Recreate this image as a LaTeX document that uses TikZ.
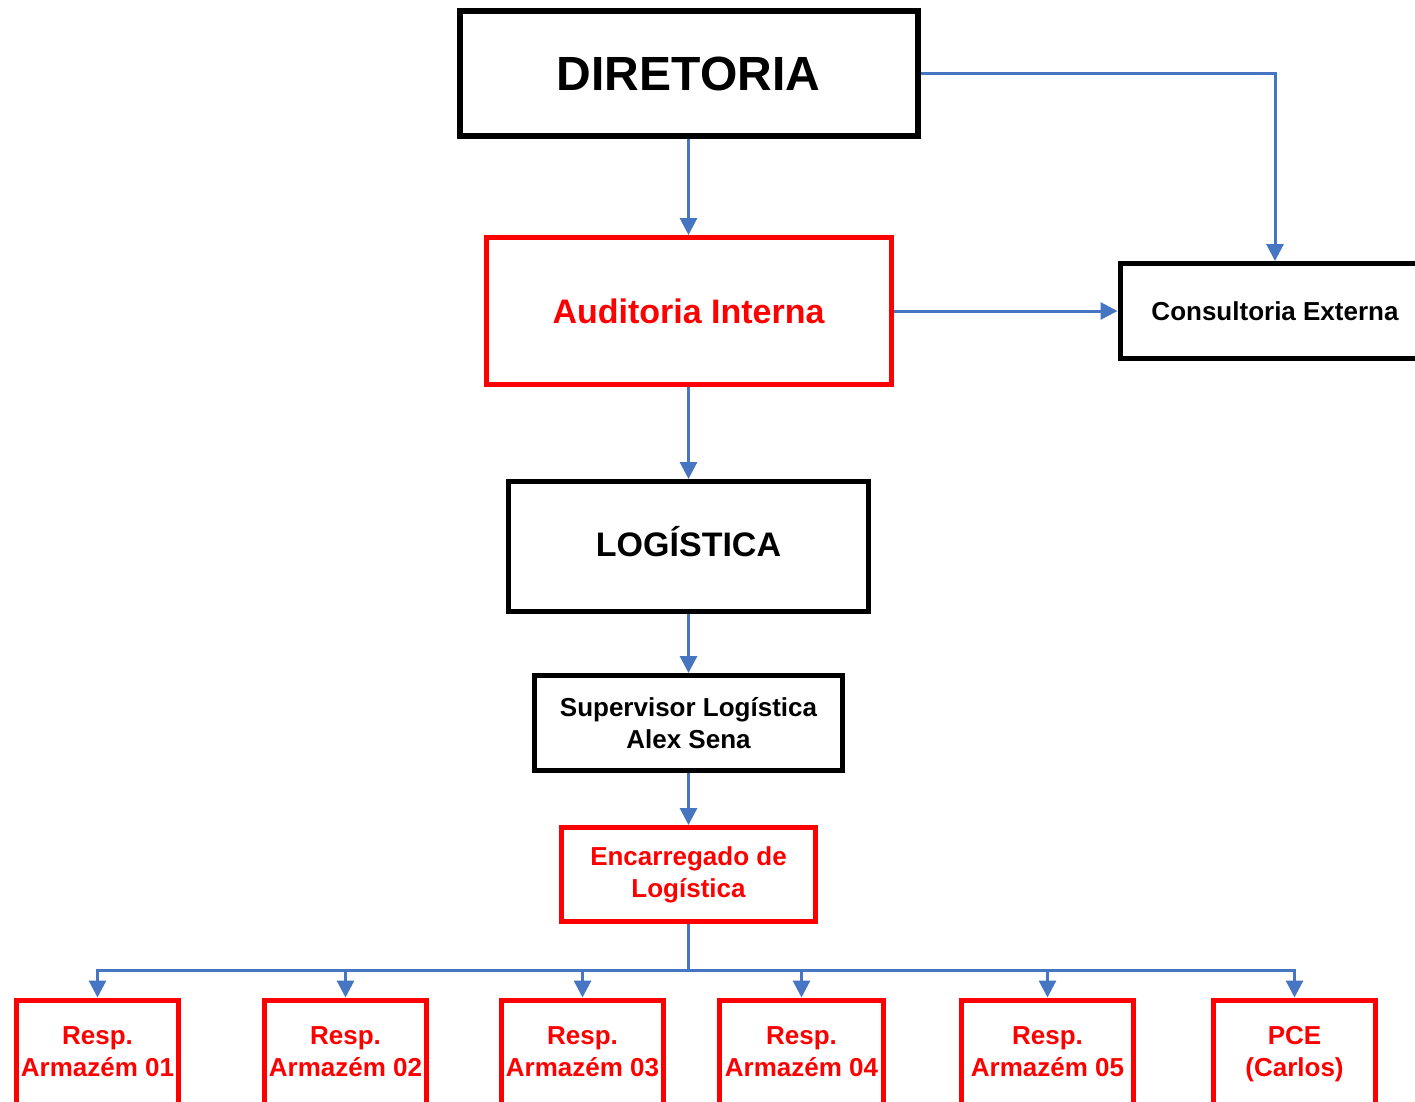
\documentclass[tikz,border=0pt]{standalone}
\usepackage{fontspec}
\setmainfont{Liberation Sans}
\usetikzlibrary{arrows.meta}
\definecolor{conn}{RGB}{70,117,194}
\definecolor{boxred}{RGB}{255,0,0}
\tikzset{
  box/.style={draw, inner sep=0pt, align=center, font=\bfseries},
  blackbox/.style={box, draw=black, text=black},
  redbox/.style={box, draw=boxred, text=boxred},
  conn/.style={draw=conn, line width=3pt, -{Triangle[width=17pt,length=17pt]}},
  plain/.style={draw=conn, line width=3pt},
  small/.style={font=\bfseries\fontsize{26}{32}\selectfont},
  bottombox/.style={redbox, line width=5pt, minimum height=109pt, small},
}
\begin{document}
\begin{tikzpicture}[x=1pt,y=-1pt]
\useasboundingbox (0,0) rectangle (1415,1102);
\clip (0,0) rectangle (1415,1102);
\fill[white] (0,0) rectangle (1415,1102);
% boxes
\node[blackbox, line width=6pt, minimum width=458pt, minimum height=125pt,
      font=\bfseries\fontsize{48}{58}\selectfont] (dir) at (688.5,73.5) {DIRETORIA};
\node[redbox, line width=5pt, minimum width=405pt, minimum height=147pt,
      font=\bfseries\fontsize{34}{40}\selectfont] (aud) at (688.5,311) {Auditoria Interna};
\node[blackbox, line width=5pt, minimum width=310pt, minimum height=95pt, small] (con) at (1275,311) {Consultoria Externa};
\node[blackbox, line width=5pt, minimum width=360pt, minimum height=130pt, text height=24pt, text depth=5pt,
      font=\bfseries\fontsize{34}{40}\selectfont] (log) at (688.5,546.5) {LOGÍSTICA};
\node[blackbox, line width=5pt, minimum width=308pt, minimum height=95pt, small] (sup) at (688.5,723) {Supervisor Logística\\Alex Sena};
\node[redbox, line width=5pt, minimum width=254pt, minimum height=94pt, small] (enc) at (688.5,874.5) {Encarregado de\\Logística};
% bottom row
\node[bottombox, minimum width=162pt] (b1) at (97.5,1054.5) {\strut Resp.\\\strut Armazém 01};
\node[bottombox, minimum width=162pt] (b2) at (345.5,1054.5) {\strut Resp.\\\strut Armazém 02};
\node[bottombox, minimum width=162pt] (b3) at (582.5,1054.5) {\strut Resp.\\\strut Armazém 03};
\node[bottombox, minimum width=164pt] (b4) at (801.5,1054.5) {\strut Resp.\\\strut Armazém 04};
\node[bottombox, minimum width=172pt] (b5) at (1047.5,1054.5) {\strut Resp.\\\strut Armazém 05};
\node[bottombox, minimum width=162pt] (b6) at (1294.5,1054.5) {\strut PCE\\\strut (Carlos)};
% connectors
\draw[conn] (dir) -- (aud);
\draw[conn] (dir.east) -| (con.north);
\draw[conn] (aud.east) -- (con.west);
\draw[conn] (aud) -- (log);
\draw[conn] (log) -- (sup);
\draw[conn] (sup) -- (enc);
\coordinate (bus) at (688.5,970);
\draw[plain] (enc.south) -- (bus);
\foreach \n in {b1,b2,b3,b4,b5,b6}
  \draw[conn] (bus) -| (\n.north);
\end{tikzpicture}
\end{document}
